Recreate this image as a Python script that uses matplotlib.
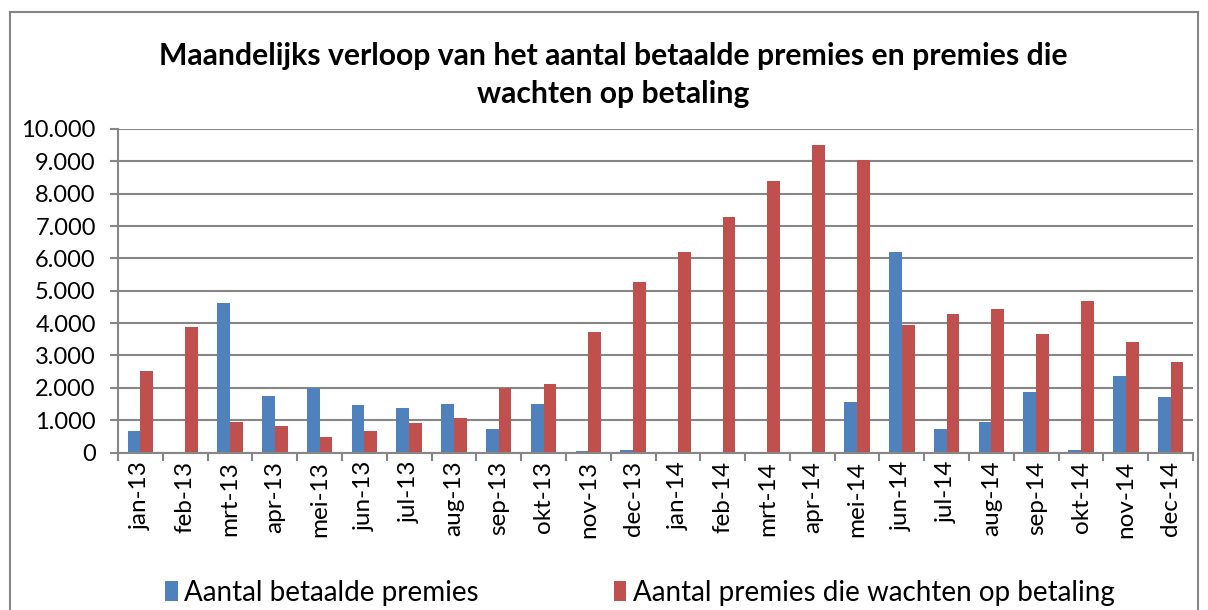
import numpy as np
import matplotlib.pyplot as plt
from matplotlib.patches import Rectangle
from matplotlib.ticker import FuncFormatter, MultipleLocator

plt.rcParams['font.family'] = ['Lato', 'DejaVu Sans']

maanden = ['jan-13', 'feb-13', 'mrt-13', 'apr-13', 'mei-13', 'jun-13', 'jul-13', 'aug-13',
           'sep-13', 'okt-13', 'nov-13', 'dec-13', 'jan-14', 'feb-14', 'mrt-14', 'apr-14',
           'mei-14', 'jun-14', 'jul-14', 'aug-14', 'sep-14', 'okt-14', 'nov-14', 'dec-14']
betaald = [660, 0, 4610, 1745, 1980, 1465, 1385, 1485, 720, 1495, 40, 80,
           0, 0, 0, 0, 1550, 6190, 735, 940, 1860, 70, 2355, 1715]
wachtend = [2520, 3890, 930, 815, 475, 650, 900, 1065, 1980, 2115, 3715, 5265,
            6190, 7295, 8400, 9515, 9050, 3940, 4285, 4440, 3675, 4685, 3425, 2785]

titel = 'Maandelijks verloop van het aantal betaalde premies en premies die\nwachten op betaling'
labels = ['Aantal betaalde premies', 'Aantal premies die wachten op betaling']
blauw = '#4F81BD'
rood = '#C0504D'
grijs = '#868686'

fig = plt.figure(figsize=(12.08, 6.10), dpi=100)
ax = fig.add_axes([118 / 1208, 1 - 452.5 / 610, (1193 - 118) / 1208, (452.5 - 129) / 610])

x = np.arange(len(maanden))
w = 0.285
b1 = ax.bar(x - w / 2, betaald, w, color=blauw, label=labels[0])
b2 = ax.bar(x + w / 2, wachtend, w, color=rood, label=labels[1])

ax.set_xlim(-0.5, len(maanden) - 0.5)
ax.set_ylim(0, 10000)
ax.yaxis.set_major_locator(MultipleLocator(1000))
ax.yaxis.set_major_formatter(FuncFormatter(lambda v, p: f'{int(v):,}'.replace(',', '.')))
ax.set_xticks(x)
ax.set_xticklabels(maanden, rotation=90, fontsize=17.5)
ax.set_xticks(np.arange(-0.5, len(maanden)), minor=True)
ax.tick_params(axis='x', which='major', length=0, pad=6)
ax.tick_params(axis='x', which='minor', length=6, color=grijs, width=1.5)
ax.tick_params(axis='y', labelsize=17, length=6, color=grijs, width=1.5, pad=10)
ax.grid(axis='y', color=grijs, linewidth=1.5)
ax.set_axisbelow(True)
for s in ['top', 'right']:
    ax.spines[s].set_visible(False)
ax.spines['left'].set_color(grijs)
ax.spines['bottom'].set_color(grijs)
ax.spines['left'].set_linewidth(1.5)
ax.spines['bottom'].set_linewidth(1.5)

fig.text(0.508, 1 - 75 / 610, titel, ha='center', va='center', fontsize=21.7,
         fontweight='bold', linespacing=1.4)

fig.legend(handles=[b1, b2], loc='center left', bbox_to_anchor=(140 / 1208, 1 - 593 / 610),
           ncol=2, frameon=False, fontsize=20, handlelength=0.45, handleheight=0.75,
           handletextpad=0.25, columnspacing=4.85)

fig.patches.append(Rectangle((10 / 1208, -0.05), 1188 / 1208, 1.05 - 12 / 610,
                             transform=fig.transFigure, fill=False, edgecolor=grijs,
                             linewidth=1.5))

fig.savefig('out.png', dpi=100)
